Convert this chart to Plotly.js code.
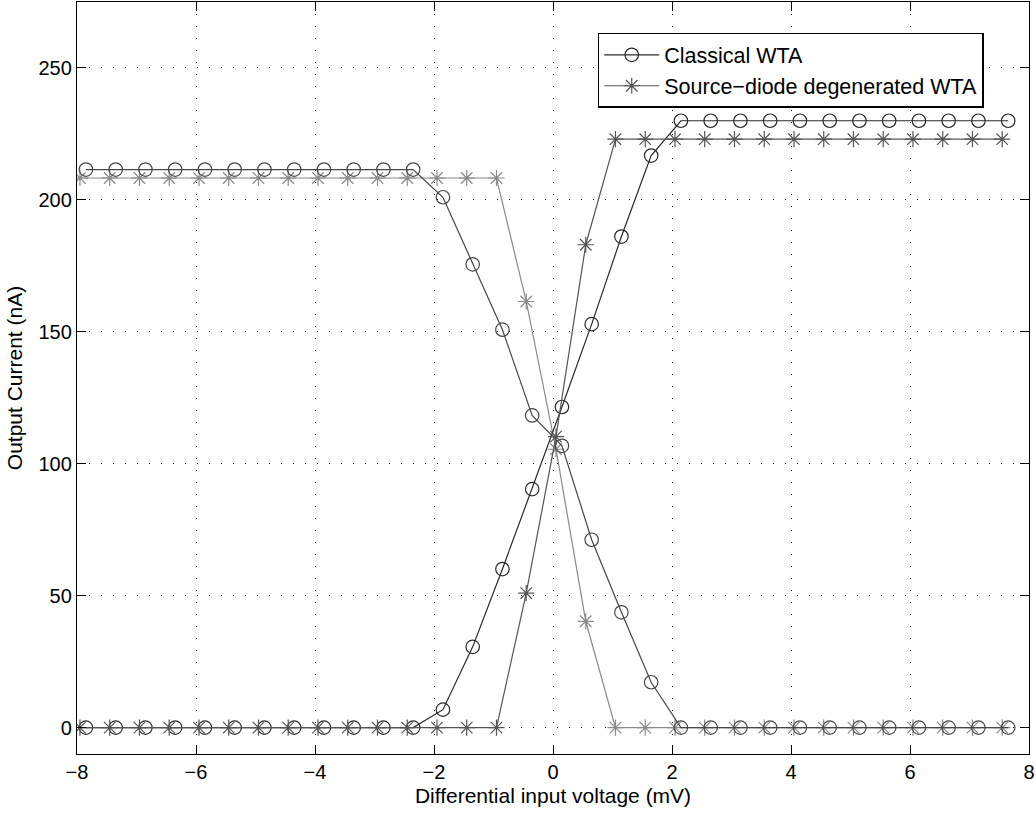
<!DOCTYPE html>
<html>
<head>
<meta charset="utf-8">
<script src="https://cdn.plot.ly/plotly-3.0.1.min.js"></script>
<style>html,body{margin:0;padding:0;background:#fff;}#chart{width:1036px;height:817px;}</style>
</head>
<body>
<div id="chart"></div>
<script>
// Differential input voltage (mV) for each series
const classicalX = [-7.85,-7.35,-6.85,-6.35,-5.85,-5.35,-4.85,-4.35,-3.85,-3.35,-2.85,-2.35,-1.85,-1.35,-0.85,-0.35,0.15,0.65,1.15,1.65,2.15,2.65,3.15,3.65,4.15,4.65,5.15,5.65,6.15,6.65,7.15,7.65];
const degenX = [-7.95,-7.45,-6.95,-6.45,-5.95,-5.45,-4.95,-4.45,-3.95,-3.45,-2.95,-2.45,-1.95,-1.45,-0.95,-0.45,0.05,0.55,1.05,1.55,2.05,2.55,3.05,3.55,4.05,4.55,5.05,5.55,6.05,6.55,7.05,7.55];

// Output currents (nA)
const classicalOut1 = [211.5,211.5,211.5,211.5,211.5,211.5,211.5,211.5,211.5,211.5,211.5,211.5,201,175.6,150.8,118.3,106.8,71.2,43.7,17.2,0,0,0,0,0,0,0,0,0,0,0,0];
const classicalOut2 = [0,0,0,0,0,0,0,0,0,0,0,0,6.8,30.6,60.1,90.4,121.5,152.9,186.1,216.8,230,230,230,230,230,230,230,230,230,230,230,230];
const degenOut1 = [208.3,208.3,208.3,208.3,208.3,208.3,208.3,208.3,208.3,208.3,208.3,208.3,208.3,208.3,208.3,161.5,105.5,40.3,0,0,0,0,0,0,0,0,0,0,0,0,0,0];
const degenOut2 = [0,0,0,0,0,0,0,0,0,0,0,0,0,0,0,51,110.3,183,223,223,223,223,223,223,223,223,223,223,223,223,223,223];

const seriesNames = ['Classical WTA', 'Source\u2212diode degenerated WTA'];
const xTicks = [-8,-6,-4,-2,0,2,4,6,8];
const yTicks = [0,50,100,150,200,250];

const FONT = 'Liberation Sans, Arial, Helvetica, sans-serif';

function tr(x, y, color, symbol, name, showlegend) {
  return {
    x: x, y: y, type: 'scatter', mode: 'lines+markers',
    name: name, showlegend: showlegend,
    line: {color: color, width: 1.2},
    marker: {symbol: symbol, size: 13.5, color: color, line: {color: color, width: 1.2}}
  };
}

const data = [
  tr(degenX, degenOut1, '#8a8a8a', 'asterisk-open', seriesNames[1], false),
  tr(classicalX, classicalOut1, '#474747', 'circle-open', seriesNames[0], false),
  tr(classicalX, classicalOut2, '#2a2a2a', 'circle-open', seriesNames[0], true),
  tr(degenX, degenOut2, '#555555', 'asterisk-open', seriesNames[1], true)
];

const axisCommon = {
  showline: true, linecolor: '#000', linewidth: 1.2, mirror: 'ticks',
  ticks: 'inside', ticklen: 9, tickwidth: 1, tickcolor: '#000',
  showgrid: true, gridcolor: '#000', gridwidth: 1, griddash: '1px,11px',
  zeroline: false,
  tickfont: {family: FONT, size: 20, color: '#000'}
};

const layout = {
  width: 1036, height: 817,
  margin: {l: 77, r: 7, t: 2, b: 63},
  paper_bgcolor: '#fff', plot_bgcolor: '#fff',
  font: {family: FONT, size: 20, color: '#000'},
  xaxis: Object.assign({}, axisCommon, {
    range: [-8, 8], tickvals: xTicks,
    title: {text: 'Differential input voltage (mV)', font: {family: FONT, size: 21, color: '#000'}, standoff: 6}
  }),
  yaxis: Object.assign({}, axisCommon, {
    range: [-10, 275], tickvals: yTicks,
    title: {text: 'Output Current (nA)', font: {family: FONT, size: 21, color: '#000'}, standoff: 10}
  }),
  legend: {
    x: 0.547, y: 0.959, xanchor: 'left', yanchor: 'top',
    bgcolor: '#fff', bordercolor: '#000', borderwidth: 1.5,
    font: {family: FONT, size: 21.5, color: '#000'},
    itemwidth: 55, traceorder: 'normal'
  },
  showlegend: true
};

Plotly.newPlot('chart', data, layout, {staticPlot: true, displayModeBar: false});
</script>
</body>
</html>
